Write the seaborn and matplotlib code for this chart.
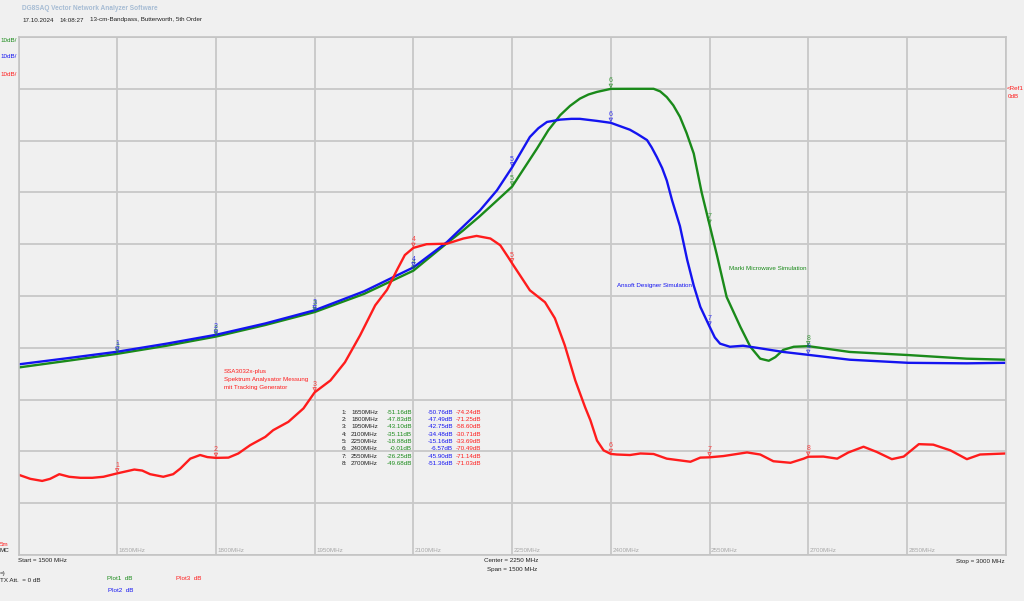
import matplotlib
matplotlib.use("Agg")
import matplotlib.pyplot as plt
import matplotlib.transforms as mtransforms
import seaborn as sns
import numpy as np
import pandas as pd

# Plot1 - Marki Microwave Simulation (green)
plot1_freq = [1500, 1575, 1650, 1725, 1800, 1875, 1950, 2025, 2100, 2150, 2175, 2200,
              2225, 2250, 2270, 2288, 2305, 2323, 2338, 2353, 2366, 2379, 2400, 2430,
              2465, 2475, 2485, 2495, 2505, 2515, 2526, 2538, 2550, 2561, 2576, 2597,
              2612, 2627, 2640, 2650, 2662, 2678, 2700, 2763, 2852, 2941, 3000]
plot1_db = [-53.8, -52.5, -51.16, -49.6, -47.83, -45.6, -43.10, -39.6, -35.11, -29.9, -27.4, -24.7,
            -21.8, -18.88, -15.0, -11.5, -8.0, -5.1, -3.3, -1.9, -1.1, -0.6, -0.01, 0.0,
            0.0, -0.5, -1.6, -3.2, -5.4, -8.5, -12.5, -20.0, -26.25, -32.0, -40.2, -46.0,
            -49.8, -52.1, -52.5, -51.8, -50.4, -49.8, -49.68, -50.8, -51.4, -52.1, -52.3]

# Plot2 - Ansoft Designer Simulation (blue)
plot2_freq = [1500, 1575, 1650, 1725, 1800, 1875, 1950, 2025, 2100, 2151, 2201, 2227,
              2250, 2277, 2290, 2303, 2323, 2340, 2353, 2379, 2400, 2429, 2440, 2455,
              2462, 2470, 2478, 2485, 2493, 2505, 2516, 2526, 2536, 2550, 2558, 2566,
              2581, 2601, 2622, 2662, 2700, 2763, 2852, 2941, 3000]
plot2_db = [-53.2, -52.0, -50.76, -49.2, -47.49, -45.3, -42.75, -39.1, -34.48, -29.6, -23.5, -19.6,
            -15.16, -9.3, -7.6, -6.4, -5.95, -5.8, -5.8, -6.2, -6.57, -7.9, -8.7, -9.9,
            -11.3, -13.2, -15.3, -17.7, -21.5, -26.5, -33.0, -38.0, -42.1, -45.90, -48.0, -49.2,
            -49.8, -49.6, -50.0, -50.8, -51.36, -52.3, -52.9, -53.0, -52.9]

# Plot3 - SSA3032x-plus measurement (red)
plot3_freq = [1500, 1518, 1536, 1548, 1562, 1577, 1594, 1612, 1629, 1650, 1676, 1688,
              1700, 1720, 1735, 1746, 1761, 1776, 1787, 1800, 1819, 1834, 1852, 1875,
              1887, 1910, 1933, 1950, 1974, 1996, 2019, 2042, 2060, 2075, 2087, 2100,
              2120, 2151, 2176, 2196, 2217, 2232, 2244, 2250, 2262, 2277, 2300, 2315,
              2330, 2346, 2361, 2369, 2379, 2389, 2400, 2409, 2429, 2445, 2465, 2485,
              2521, 2536, 2550, 2571, 2607, 2627, 2647, 2673, 2693, 2700, 2723, 2744,
              2761, 2784, 2804, 2827, 2845, 2868, 2890, 2916, 2941, 2961, 3000]
plot3_db = [-74.5, -75.3, -75.7, -75.3, -74.4, -74.9, -75.1, -75.1, -74.9, -74.24, -73.5, -73.7,
            -74.4, -74.9, -74.4, -73.3, -71.4, -70.7, -71.1, -71.25, -71.2, -70.4, -68.8, -67.2,
            -65.9, -64.3, -61.7, -58.60, -56.3, -52.8, -47.6, -41.8, -38.8, -35.0, -32.1, -30.71,
            -30.0, -29.9, -28.9, -28.4, -28.9, -30.2, -32.5, -33.69, -36.0, -38.9, -41.2, -44.3,
            -49.5, -56.3, -61.5, -64.0, -67.9, -69.8, -70.49, -70.6, -70.7, -70.4, -70.5, -71.4,
            -72.0, -71.2, -71.14, -70.9, -70.2, -70.6, -71.9, -72.2, -71.4, -71.03, -71.0, -71.4,
            -70.2, -69.1, -70.1, -71.5, -71.0, -68.6, -68.7, -69.8, -71.5, -70.6, -70.4]

# marker table
marker_freq = [1650, 1800, 1950, 2100, 2250, 2400, 2550, 2700]
marker_plot1 = [-51.16, -47.83, -43.10, -35.11, -18.88, -0.01, -26.25, -49.68]
marker_plot2 = [-50.76, -47.49, -42.75, -34.48, -15.16, -6.57, -45.90, -51.36]
marker_plot3 = [-74.24, -71.25, -58.60, -30.71, -33.69, -70.49, -71.14, -71.03]

grid_freq = [1500, 1650, 1800, 1950, 2100, 2250, 2400, 2550, 2700, 2850, 3000]
grid_db = [10, 0, -10, -20, -30, -40, -50, -60, -70, -80, -90]

GREEN = "#1a8a1a"
BLUE = "#1414f0"
RED = "#ff1c1c"
BG = "#f0f0f0"
DARK = "#202020"

sns.set_style("white", {"axes.facecolor": BG, "figure.facecolor": BG})
plt.rcParams["font.family"] = ["Liberation Sans Narrow", "Liberation Sans", "DejaVu Sans"]

df = pd.concat([
    pd.DataFrame({"freq": plot1_freq, "db": plot1_db, "plot": "Plot1"}),
    pd.DataFrame({"freq": plot2_freq, "db": plot2_db, "plot": "Plot2"}),
    pd.DataFrame({"freq": plot3_freq, "db": plot3_db, "plot": "Plot3"}),
])

fig = plt.figure(figsize=(10.24, 6.01), dpi=100)
W, H = 1024, 601
ax = fig.add_axes([18.5 / W, 1 - 555 / H, (1005.7 - 18.5) / W, (555 - 37) / H])

sns.lineplot(data=df, x="freq", y="db", hue="plot", hue_order=["Plot1", "Plot2", "Plot3"],
             palette=[GREEN, BLUE, RED], estimator=None, sort=False, legend=False,
             linewidth=1.7, ax=ax)

ax.set_xlim(1500, 3000)
ax.set_ylim(-90, 10)
ax.set_xticks(grid_freq)
ax.set_yticks(grid_db)
ax.tick_params(length=0, labelbottom=False, labelleft=False)
ax.grid(True, color="#c8c8c8", linewidth=1.3)
ax.set_axisbelow(True)
ax.set_xlabel("")
ax.set_ylabel("")
for s in ax.spines.values():
    s.set_color("#c4c4c4")
    s.set_linewidth(1.2)

fs = 4.5

# frequency labels inside the plot
for f in grid_freq[1:-1]:
    ax.annotate(f"{f}MHz", (f, -90), xytext=(1.0, 1.3), textcoords="offset points",
                fontsize=fs, color="#a8a8a8", ha="left", va="bottom")

# curve markers
for vals, col in [(marker_plot1, GREEN), (marker_plot2, BLUE), (marker_plot3, RED)]:
    tr = mtransforms.offset_copy(ax.transData, fig=fig, x=0, y=2.2, units="points")
    ax.scatter(marker_freq, vals, marker="v", s=6, facecolors="none", edgecolors=col,
               linewidths=0.6, transform=tr, zorder=5, alpha=0.75)
    for i, (f, v) in enumerate(zip(marker_freq, vals)):
        ax.annotate(str(i + 1), (f, v), xytext=(0, 3.3), textcoords="offset points",
                    fontsize=5, color=col, ha="center", va="bottom", alpha=0.8)


def px(x, y, s, **kw):
    kw.setdefault("fontsize", fs)
    kw.setdefault("va", "center")
    fig.text(x / W, 1 - y / H, s, **kw)


# curve descriptions
px(224, 372, "SSA3032x-plus", color=RED)
px(224, 380, "Spektrum Analysator Messung", color=RED)
px(224, 388, "mit Tracking Generator", color=RED)
px(617, 286, "Ansoft Designer Simulation", color=BLUE)
px(729, 269, "Marki Microwave Simulation", color=GREEN)

# marker table
for i, f in enumerate(marker_freq):
    y = 412 + 7.35 * i
    px(347, y, f"{i + 1}:", color=DARK, ha="right")
    px(351, y, f"{f}MHz", color=DARK)
    px(412, y, f"{marker_plot1[i]:.2f}dB", color=GREEN, ha="right")
    px(453, y, f"{marker_plot2[i]:.2f}dB", color=BLUE, ha="right")
    px(481, y, f"{marker_plot3[i]:.2f}dB", color=RED, ha="right")

# header
px(22, 9, "DG8SAQ Vector Network Analyzer Software", fontsize=4.7, color="#a6bcd4",
   fontweight="bold")
px(22, 20, "17.10.2024", color=DARK)
px(59, 20, "14:08:27", color=DARK)
px(90, 20, "13-cm-Bandpass, Butterworth, 5th Order", color=DARK)

# scale labels
px(0, 41, "10dB/", color=GREEN)
px(0, 57, "10dB/", color=BLUE)
px(0, 74, "10dB/", color=RED)
px(1007, 88, "<Ref1", color=RED)
px(1008, 97, "0dB", color=RED)
px(0, 544, "5m", color=RED)
px(0, 551, "MC", color=DARK)

# bottom info
px(18, 561, "Start = 1500 MHz", color=DARK)
px(538, 561, "Center = 2250 MHz", color=DARK, ha="right")
px(537, 569, "Span = 1500 MHz", color=DARK, ha="right")
px(1005, 561, "Stop = 3000 MHz", color=DARK, ha="right")
px(0, 573, "=)", color=DARK)
px(0, 581, "TX Att.  = 0 dB", color=DARK)
px(107, 578, "Plot1  dB", color=GREEN)
px(176, 578, "Plot3  dB", color=RED)
px(108, 590, "Plot2  dB", color=BLUE)

fig.savefig("out.png", dpi=100, facecolor=BG)
